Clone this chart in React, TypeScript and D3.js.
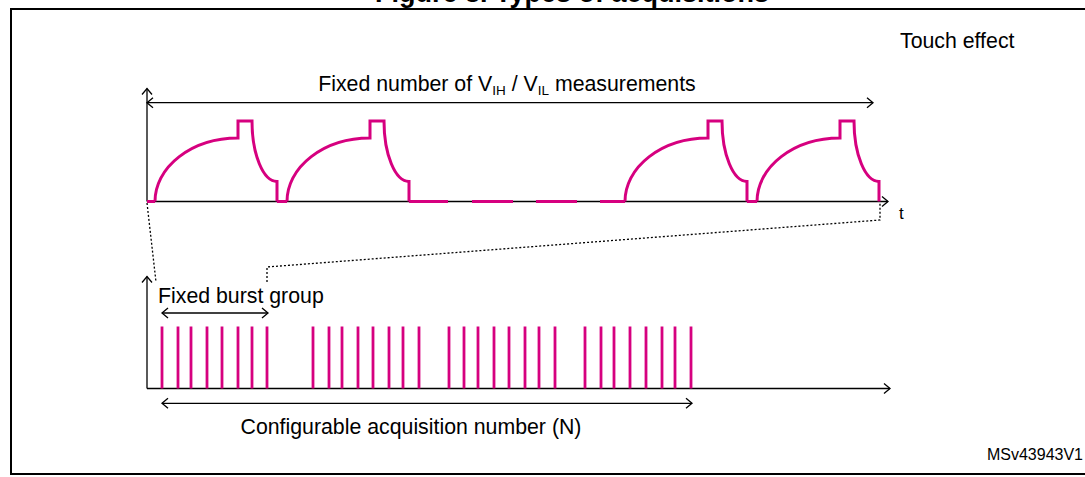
import React from 'react';
import * as d3 from 'd3';

const width = 1085;
const height = 477;
const magenta = '#d6007f';
const font = 'Liberation Sans, Arial, sans-serif';
const labelSize = 21.3;

// top trace: time (px from origin) where each charge pulse starts
const pulseStarts = [8, 140, 478, 610];
// idle stretches sitting on the time axis
const flatRuns = [[0, 8], [130, 140], [262, 301], [325, 366], [389, 430], [453, 478], [600, 610]];
// pulse shape: rise length, spike width, decay length
const pulseTiming = [83, 14, 25];
// pulse levels: plateau, spike top, tail before the drop
const pulseLevels = [63.5, 80.5, 20];

// bottom trace: burst pulses, 4 groups of 8
const burstTimes = [
  15, 31, 44, 60, 75, 91, 105, 120,
  166, 182, 195, 211, 226, 242, 256, 272,
  302, 317, 331, 347, 362, 378, 392, 408,
  438, 454, 467, 483, 499, 515, 528, 544,
];
const burstLevel = 62;

const xTop = d3.scaleLinear().domain([0, 741]).range([147, 888]);
const yTop = d3.scaleLinear().domain([0, 113]).range([201.5, 88.5]);
const xBot = d3.scaleLinear().domain([0, 743]).range([147, 890]);
const yBot = d3.scaleLinear().domain([0, 112]).range([388.5, 276.5]);

const chevron = (x: number, y: number, dir: string) => {
  const s = 6, w = 5;
  if (dir === 'right') return `M${x - s},${y - w}L${x},${y}L${x - s},${y + w}`;
  if (dir === 'left') return `M${x + s},${y - w}L${x},${y}L${x + s},${y + w}`;
  return `M${x - w},${y + s}L${x},${y}L${x + w},${y + s}`; // up
};

const pulsePath = (s: number) => {
  const [rise, spike, decay] = pulseTiming;
  const [plateau, top, tail] = pulseLevels;
  const x0 = xTop(s), x1 = xTop(s + rise), x2 = xTop(s + rise + spike), x3 = xTop(s + rise + spike + decay);
  const y0 = yTop(0), yp = yTop(plateau), ys = yTop(top), yt = yTop(tail);
  return `M${x0},${y0}A${x1 - x0},${y0 - yp} 0 0 1 ${x1},${yp}L${x1},${ys}L${x2},${ys}` +
    `A${x3 - x2},${yt - ys} 0 0 0 ${x3},${yt}L${x3},${y0}`;
};

const line = d3.line();

const App = () => {
  const y0 = yTop(0);
  const b0 = yBot(0);
  const dots1: [number, number][] = [[xTop(0), yTop(-1.5)], [xBot(9), yBot(106.5)]];
  const dots2: [number, number][] = [
    [xBot(120), yBot(106.5)], [xBot(120), yBot(121.5)],
    [xTop(733), yTop(-18.5)], [xTop(733), yTop(-1.5)],
  ];
  const arrowY = 102.7;

  return (
    <svg width={width} height={height} style={{ position: 'absolute', left: 0, top: 0, background: '#fff' }}
      fontFamily={font}>
      {/* title sits mostly above the page edge, as in the source */}
      <text x={572} y={1.5} fontSize={27} fontWeight="bold" textAnchor="middle">Figure 8. Types of acquisitions</text>
      <rect x={11} y={9} width={1090} height={465} fill="none" stroke="#000" strokeWidth={2} />

      <text x={900} y={48} fontSize={labelSize}>Touch effect</text>
      <text x={1083} y={460} fontSize={16} textAnchor="end">MSv43943V1</text>

      {/* top chart axes */}
      <g stroke="#000" strokeWidth={1.3} fill="none">
        <line x1={xTop(0)} y1={y0} x2={xTop(741)} y2={y0} />
        <line x1={xTop(0)} y1={y0} x2={xTop(0)} y2={yTop(113)} />
        <path d={chevron(xTop(741), y0, 'right')} />
        <path d={chevron(xTop(0), yTop(113), 'up')} />
        <line x1={xTop(0)} y1={arrowY} x2={xTop(726)} y2={arrowY} />
        <path d={chevron(xTop(0), arrowY, 'left')} />
        <path d={chevron(xTop(726), arrowY, 'right')} />
      </g>
      <text x={507} y={91} fontSize={labelSize} textAnchor="middle">
        Fixed number of V<tspan fontSize={13.5} dy={4}>IH</tspan>
        <tspan dy={-4}> / V</tspan><tspan fontSize={13.5} dy={4}>IL</tspan>
        <tspan dy={-4}> measurements</tspan>
      </text>
      <text x={899} y={219} fontSize={17}>t</text>

      {/* top trace */}
      <g stroke={magenta} strokeWidth={3} fill="none">
        {flatRuns.map(([a, b], i) => (
          <line key={i} x1={xTop(a)} y1={y0} x2={xTop(b)} y2={y0} />
        ))}
        {pulseStarts.map((s, i) => <path key={i} d={pulsePath(s)} />)}
      </g>

      {/* zoom lines */}
      <g stroke="#000" strokeWidth={1.3} strokeDasharray="2,2" fill="none">
        <path d={line(dots1) || ''} />
        <path d={line(dots2) || ''} />
      </g>

      {/* bottom chart */}
      <g stroke="#000" strokeWidth={1.3} fill="none">
        <line x1={xBot(0)} y1={b0} x2={xBot(743)} y2={b0} />
        <line x1={xBot(0)} y1={b0} x2={xBot(0)} y2={yBot(112)} />
        <path d={chevron(xBot(743), b0, 'right')} />
        <path d={chevron(xBot(0), yBot(112), 'up')} />
        <line x1={xBot(15)} y1={313} x2={xBot(121)} y2={313} />
        <path d={chevron(xBot(15), 313, 'left')} />
        <path d={chevron(xBot(121), 313, 'right')} />
        <line x1={xBot(15)} y1={403.3} x2={xBot(545)} y2={403.3} />
        <path d={chevron(xBot(15), 403.3, 'left')} />
        <path d={chevron(xBot(545), 403.3, 'right')} />
      </g>
      <text x={158} y={303} fontSize={labelSize}>Fixed burst group</text>
      <text x={411} y={434} fontSize={labelSize} textAnchor="middle">Configurable acquisition number (N)</text>

      <g stroke={magenta} strokeWidth={2.8}>
        {burstTimes.map((t, i) => (
          <line key={i} x1={xBot(t)} y1={b0} x2={xBot(t)} y2={yBot(burstLevel)} />
        ))}
      </g>
    </svg>
  );
};

export default App;
